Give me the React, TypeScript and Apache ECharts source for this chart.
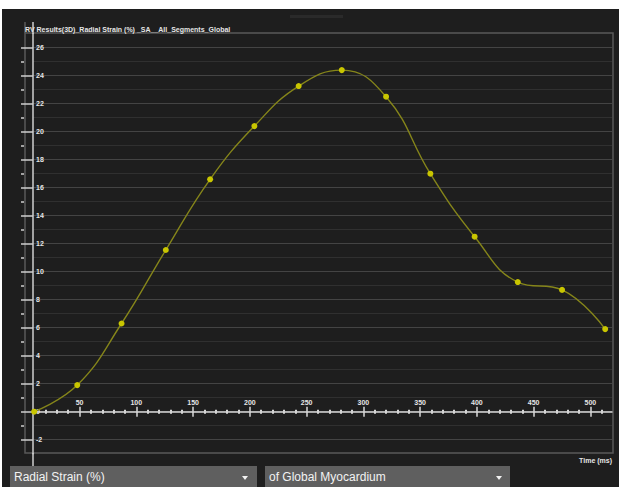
import React, { useEffect, useRef } from "react";
import * as echarts from "echarts";

const chartTitle = "RV Results(3D)_Radial Strain (%) _SA__All_Segments_Global";
const xAxisName = "Time (ms)";
const dropdownLabels = ["Radial Strain (%)", "of Global Myocardium"];

const timesMs = [10, 48, 87, 126, 165, 204, 243, 281, 320, 359, 398, 436, 475, 513];
const strainPct = [0, 1.9, 6.3, 11.55, 16.6, 20.4, 23.26, 24.4, 22.5, 17.0, 12.5, 9.26, 8.7, 5.9];

const xMajorTicks = [50, 100, 150, 200, 250, 300, 350, 400, 450, 500];
const xMinorTicks = [
  10, 20, 30, 40, 60, 70, 80, 90, 110, 120, 130, 140, 160, 170, 180, 190, 210, 220, 230, 240,
  260, 270, 280, 290, 310, 320, 330, 340, 360, 370, 380, 390, 410, 420, 430, 440, 460, 470, 480,
  490, 510,
];
const yMajorTicks = [-2, 0, 2, 4, 6, 8, 10, 12, 14, 16, 18, 20, 22, 24, 26];
const yMinorTicks = [-1, 1, 3, 5, 7, 9, 11, 13, 15, 17, 19, 21, 23, 25];

const X_MIN = 9;
const X_MAX = 519;
const Y_MIN = -3;
const Y_MAX = 27;

const GRID_TOP = 33.7;
const GRID_BOTTOM_Y = 453.7;
const FONT = "'Liberation Sans', Arial, sans-serif";

export default function App() {
  const ref = useRef<HTMLDivElement>(null);

  useEffect(() => {
    if (!ref.current) return;
    const chart = echarts.init(ref.current, null, { renderer: "svg" });

    // pixel distance from grid bottom up to the zero line
    const zeroOffset = ((0 - Y_MIN) / (Y_MAX - Y_MIN)) * (GRID_BOTTOM_Y - GRID_TOP);

    const tickLabelStyle = {
      color: "#e6e6e6",
      fontSize: 7,
      fontWeight: "bold" as const,
      fontFamily: FONT,
    };

    const baseX = {
      type: "value" as const,
      min: X_MIN,
      max: X_MAX,
      position: "bottom" as const,
      splitLine: { show: false },
    };

    const option: any = {
      animation: false,
      backgroundColor: "#ffffff",
      grid: { left: 33, right: 7, top: GRID_TOP, bottom: 487 - GRID_BOTTOM_Y },
      xAxis: [
        {
          ...baseX,
          axisLine: {
            show: true,
            onZero: true,
            onZeroAxisIndex: 0,
            lineStyle: { color: "#d8d8d8", width: 1.5 },
          },
          axisTick: {
            show: true,
            inside: true,
            length: 5,
            customValues: xMajorTicks,
            lineStyle: { color: "#d8d8d8", width: 1.5 },
          },
          axisLabel: { show: false },
        },
        {
          ...baseX,
          axisLine: { show: false, onZero: true, onZeroAxisIndex: 0 },
          axisTick: {
            show: true,
            inside: false,
            length: 5,
            customValues: xMajorTicks,
            lineStyle: { color: "#d8d8d8", width: 1.5 },
          },
          axisLabel: { show: false },
        },
        {
          ...baseX,
          axisLine: { show: false, onZero: true, onZeroAxisIndex: 0 },
          axisTick: {
            show: true,
            inside: true,
            length: 2,
            customValues: xMinorTicks,
            lineStyle: { color: "#d8d8d8", width: 2 },
          },
          axisLabel: { show: false },
        },
        {
          ...baseX,
          axisLine: { show: false, onZero: true, onZeroAxisIndex: 0 },
          axisTick: {
            show: true,
            inside: false,
            length: 2,
            customValues: xMinorTicks,
            lineStyle: { color: "#d8d8d8", width: 2 },
          },
          axisLabel: { show: false },
        },
        {
          ...baseX,
          offset: -zeroOffset,
          axisLine: { show: false, onZero: false },
          axisTick: { show: false, customValues: xMajorTicks },
          axisLabel: {
            show: true,
            inside: true,
            margin: 6,
            customValues: xMajorTicks,
            ...tickLabelStyle,
          },
        },
      ],
      yAxis: [
        {
          type: "value",
          min: Y_MIN,
          max: Y_MAX,
          position: "left",
          axisLine: { show: true, onZero: false, lineStyle: { color: "#cfcfcf", width: 1.5 } },
          axisTick: {
            show: true,
            inside: false,
            length: 12,
            customValues: yMajorTicks,
            lineStyle: { color: "#cfcfcf", width: 1.5 },
          },
          axisLabel: {
            show: true,
            inside: true,
            margin: 3,
            customValues: yMajorTicks,
            ...tickLabelStyle,
          },
          splitLine: { show: true, lineStyle: { color: "#444444", width: 1.2 } },
        },
        {
          type: "value",
          min: Y_MIN,
          max: Y_MAX,
          position: "left",
          offset: 9,
          axisLine: { show: false, onZero: false },
          axisTick: {
            show: true,
            inside: false,
            length: 3,
            customValues: yMinorTicks,
            lineStyle: { color: "#cfcfcf", width: 1.5 },
          },
          axisLabel: { show: false },
          splitLine: { show: true, lineStyle: { color: "#303030", width: 1 } },
        },
      ],
      graphic: [
        { type: "rect", silent: true, z: -10, shape: { x: 2, y: 9, width: 617, height: 478 }, style: { fill: "#1e1e1e" } },
        { type: "rect", silent: true, z: -9, shape: { x: 290, y: 15, width: 53, height: 3 }, style: { fill: "#2a2a2a" } },
        {
          type: "rect",
          silent: true,
          z: -8,
          shape: { x: 25, y: 33, width: 588, height: 420 },
          style: { fill: "none", stroke: "#5a5a5a", lineWidth: 1.5 },
        },
        { type: "line", silent: true, shape: { x1: 25, y1: 22, x2: 25, y2: 33 }, style: { stroke: "#5a5a5a", lineWidth: 1.5 } },
        { type: "line", silent: true, shape: { x1: 33, y1: 22, x2: 33, y2: 34 }, style: { stroke: "#cfcfcf", lineWidth: 1.5 } },
        { type: "line", silent: true, shape: { x1: 33, y1: 453, x2: 33, y2: 487 }, style: { stroke: "#cfcfcf", lineWidth: 1.5 } },
        {
          type: "text",
          silent: true,
          x: 25,
          y: 29,
          style: {
            text: chartTitle,
            fill: "#e6e6e6",
            font: `bold 7px ${FONT}`,
            textVerticalAlign: "middle",
          },
        },
        {
          type: "text",
          silent: true,
          x: 612,
          y: 460,
          style: {
            text: xAxisName,
            fill: "#e6e6e6",
            font: `bold 7px ${FONT}`,
            textAlign: "right",
            textVerticalAlign: "middle",
          },
        },
        { type: "rect", silent: true, shape: { x: 10, y: 466, width: 247, height: 22 }, style: { fill: "#5f5f5f" } },
        { type: "rect", silent: true, shape: { x: 265, y: 466, width: 245, height: 22 }, style: { fill: "#5f5f5f" } },
        {
          type: "text",
          silent: true,
          x: 14,
          y: 477,
          style: { text: dropdownLabels[0], fill: "#f2f2f2", font: `12px ${FONT}`, textVerticalAlign: "middle" },
        },
        {
          type: "text",
          silent: true,
          x: 269,
          y: 477,
          style: { text: dropdownLabels[1], fill: "#f2f2f2", font: `12px ${FONT}`, textVerticalAlign: "middle" },
        },
        { type: "polygon", silent: true, shape: { points: [[242, 476], [248, 476], [245, 480]] }, style: { fill: "#f2f2f2" } },
        { type: "polygon", silent: true, shape: { points: [[496, 476], [502, 476], [499, 480]] }, style: { fill: "#f2f2f2" } },
      ],
      series: [
        {
          type: "line",
          xAxisIndex: 0,
          yAxisIndex: 0,
          data: timesMs.map((t, i) => [t, strainPct[i]]),
          smooth: 0.45,
          symbol: "circle",
          symbolSize: 6,
          lineStyle: { color: "#85851a", width: 1.4 },
          itemStyle: { color: "#c9c600", borderWidth: 0 },
          z: 5,
        },
      ],
    };

    chart.setOption(option);
    return () => chart.dispose();
  }, []);

  return (
    <div
      ref={ref}
      style={{ position: "fixed", left: 0, top: 0, width: 619, height: 487 }}
    />
  );
}
